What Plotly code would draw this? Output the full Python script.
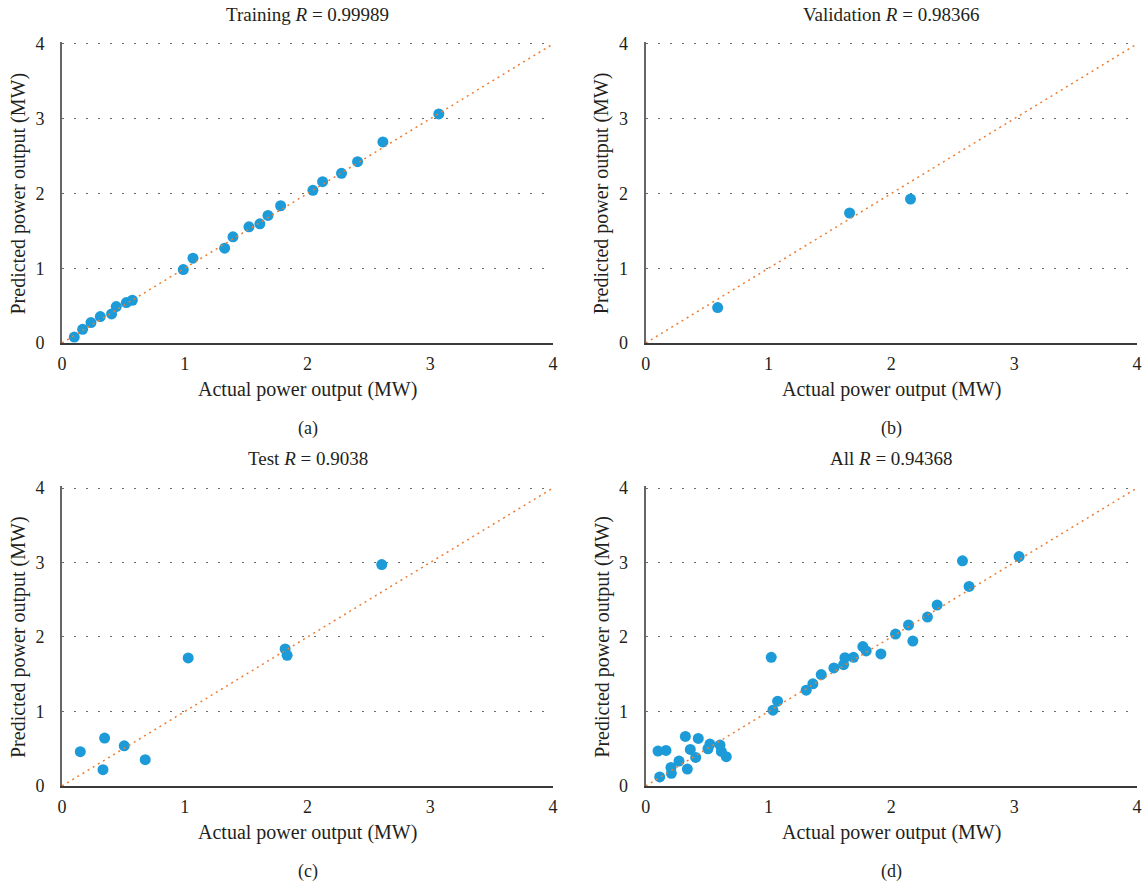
import plotly.graph_objects as go

# ---- data (MW) ----
train_actual = [0.10, 0.168, 0.236, 0.312, 0.404, 0.442, 0.524, 0.573, 0.988, 1.067, 1.325, 1.393,
                1.523, 1.612, 1.678, 1.781, 2.044, 2.123, 2.277, 2.408, 2.614, 3.070]
train_pred = [0.080, 0.183, 0.273, 0.353, 0.389, 0.487, 0.541, 0.572, 0.983, 1.135, 1.269, 1.421,
              1.555, 1.595, 1.707, 1.836, 2.042, 2.158, 2.270, 2.426, 2.690, 3.065]

val_actual = [0.586, 1.660, 2.156]
val_pred = [0.474, 1.739, 1.926]

test_actual = [0.149, 0.347, 0.334, 0.507, 0.678, 1.028, 1.818, 1.834, 2.605]
test_pred = [0.460, 0.643, 0.219, 0.540, 0.353, 1.719, 1.839, 1.754, 2.973]

all_actual = [0.100, 0.165, 0.114, 0.206, 0.209, 0.271, 0.339, 0.323, 0.363, 0.407, 0.428, 0.507,
              0.523, 0.605, 0.616, 0.656, 1.022, 1.036, 1.074, 1.307, 1.361, 1.429, 1.532, 1.611,
              1.622, 1.692, 1.768, 1.795, 1.915, 2.034, 2.140, 2.175, 2.294, 2.373, 2.579, 2.633, 3.040]
all_pred = [0.469, 0.478, 0.121, 0.250, 0.170, 0.335, 0.228, 0.665, 0.491, 0.384, 0.638, 0.500,
            0.563, 0.549, 0.464, 0.393, 1.728, 1.018, 1.138, 1.286, 1.371, 1.496, 1.585, 1.629,
            1.723, 1.728, 1.871, 1.813, 1.772, 2.040, 2.161, 1.946, 2.268, 2.429, 3.022, 2.679, 3.080]

ref_line = [0, 4]
tick_vals = [0, 1, 2, 3, 4]

panels = [
    ("Training", "0.99989", "(a)", train_actual, train_pred),
    ("Validation", "0.98366", "(b)", val_actual, val_pred),
    ("Test", "0.9038", "(c)", test_actual, test_pred),
    ("All", "0.94368", "(d)", all_actual, all_pred),
]

W, H = 1147, 891
YMAX = 4.03
xdoms = [[62 / W, 553 / W], [645.7 / W, 1137 / W]]
# plot-area pixel rows: value 0 at bottom, value 4 at top_px
rows_px = [(44, 343), (488, 786)]
ydoms = []
for top_px, bot_px in rows_px:
    h = (bot_px - top_px) * YMAX / 4
    ydoms.append([1 - bot_px / H, 1 - (bot_px - h) / H])

FONT = "Liberation Serif"
BLUE = "#1C9BD8"
ORANGE = "#ED7D31"
TXT = "#231F20"

fig = go.Figure()
annotations = []

for i, (name, rval, lab, xa, ya) in enumerate(panels):
    row, col = divmod(i, 2)
    n = i + 1
    xref = "x" if n == 1 else f"x{n}"
    yref = "y" if n == 1 else f"y{n}"
    fig.add_trace(go.Scatter(x=xa, y=ya, mode="markers",
                             marker=dict(color=BLUE, size=11, line=dict(width=0)),
                             xaxis=xref, yaxis=yref, showlegend=False, cliponaxis=False))
    fig.add_trace(go.Scatter(x=ref_line, y=ref_line, mode="lines",
                             line=dict(color=ORANGE, width=1.5, dash="2px,4px"),
                             xaxis=xref, yaxis=yref, showlegend=False))
    xkey = "xaxis" if n == 1 else f"xaxis{n}"
    ykey = "yaxis" if n == 1 else f"yaxis{n}"
    fig.update_layout(**{
        xkey: dict(domain=xdoms[col], anchor=yref, range=[0, 4], tickvals=tick_vals,
                   showgrid=False, zeroline=False, showline=True, linecolor="#3a3a3a",
                   linewidth=2, ticks="", ticklabelstandoff=3, automargin=False,
                   tickfont=dict(family=FONT, size=18, color=TXT)),
        ykey: dict(domain=ydoms[row], anchor=xref, range=[0, YMAX], tickvals=tick_vals,
                   showgrid=True, gridcolor="#6b6b6b", gridwidth=1.2, griddash="2px,10px",
                   zeroline=False, showline=True, linecolor="#666", linewidth=2,
                   ticks="", ticklabelstandoff=12, automargin=False,
                   tickfont=dict(family=FONT, size=18, color=TXT)),
    })
    xd = xdoms[col]
    cx = (xd[0] + xd[1]) / 2
    top_px, bot_px = rows_px[row]
    annotations.append(dict(text=f"{name} <i>R</i> = {rval}", x=cx, y=1 - (top_px - 30) / H,
                            xref="paper", yref="paper", showarrow=False, xanchor="center",
                            yanchor="middle", font=dict(family=FONT, size=19, color=TXT)))
    annotations.append(dict(text="Actual power output (MW)", x=cx, y=1 - (bot_px + 46) / H,
                            xref="paper", yref="paper", showarrow=False, xanchor="center",
                            yanchor="middle", font=dict(family=FONT, size=20, color=TXT)))
    annotations.append(dict(text=lab, x=cx, y=1 - (bot_px + 85) / H,
                            xref="paper", yref="paper", showarrow=False, xanchor="center",
                            yanchor="middle", font=dict(family=FONT, size=18, color=TXT)))
    annotations.append(dict(text="Predicted power output (MW)", x=(xd[0] * W - 44) / W,
                            y=1 - ((top_px + bot_px) / 2) / H,
                            xref="paper", yref="paper", showarrow=False, xanchor="center",
                            yanchor="middle", textangle=-90,
                            font=dict(family=FONT, size=20, color=TXT)))

fig.update_layout(width=W, height=H, margin=dict(l=0, r=0, t=0, b=0),
                  plot_bgcolor="white", paper_bgcolor="white",
                  annotations=annotations, showlegend=False)

fig.write_html("out.html")
